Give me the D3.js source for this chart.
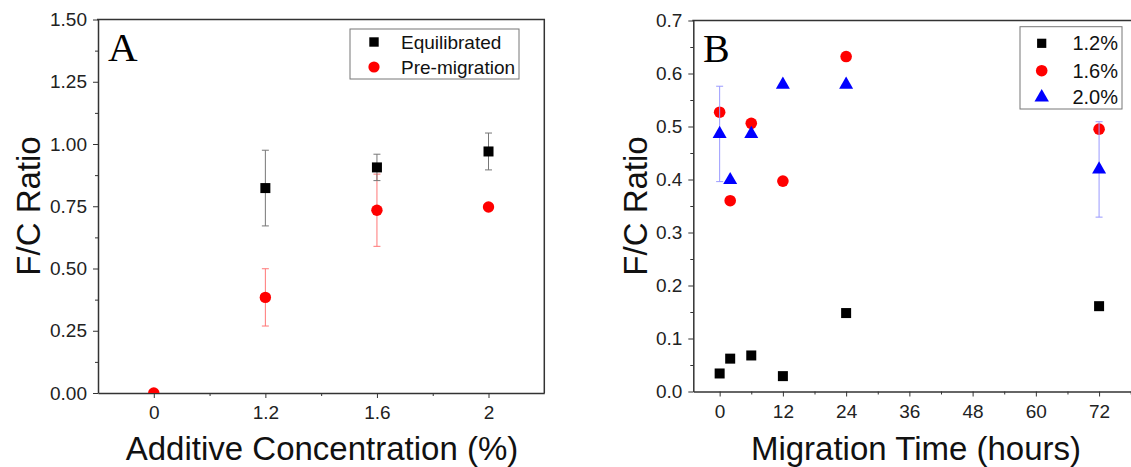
<!DOCTYPE html>
<html>
<head>
<meta charset="utf-8">
<script src="https://cdn.jsdelivr.net/npm/d3@7"></script>
<style>
  body { margin: 0; background: #fff; }
  svg { display: block; font-family: Arial, "Liberation Sans", sans-serif; }
</style>
</head>
<body>
<div id="chart"></div>
<script>
// ---- panel A data ----
const concLabels = ["0", "1.2", "1.6", "2"];
const equilVals = [null, 0.823, 0.906, 0.970];
const equilErr = [null, 0.152, 0.053, 0.074];
const preVals = [0.0, 0.384, 0.734, 0.747];
const preErr = [0, 0.115, 0.145, 0];
const aYTicks = [0, 0.25, 0.5, 0.75, 1.0, 1.25, 1.5];

// ---- panel B data ----
const hours = [0, 2, 6, 12, 24, 72];
const s12 = [0.034, 0.062, 0.068, 0.029, 0.148, 0.161];
const s16 = [0.527, 0.360, 0.506, 0.397, 0.632, 0.495];
const s20 = [0.486, 0.399, 0.486, 0.579, 0.579, 0.419];
const s20Err = [0.09, 0, 0, 0, 0, 0.09];
const bXTicks = [0, 12, 24, 36, 48, 60, 72];
const bYTicks = [0, 0.1, 0.2, 0.3, 0.4, 0.5, 0.6, 0.7];

const W = 1131, H = 467;
const axisCol = "#333";

const svg = d3.select("#chart").append("svg")
  .attr("width", W).attr("height", H);

// clip paths for plot areas
const defs = svg.append("defs");

function frame(id, x, y, xTickVals, xMinorVals, xFmt, yTickVals, yMinorVals, yFmt) {
  const [x0, x1] = x.range();
  const [y0, y1] = y.range();
  defs.append("clipPath").attr("id", id)
    .append("rect").attr("x", x0).attr("y", y1).attr("width", x1 - x0).attr("height", y0 - y1);

  // minor ticks
  svg.append("g").attr("transform", `translate(0,${y0})`)
    .call(d3.axisBottom(x).tickValues(xMinorVals).tickSize(3).tickFormat(""))
    .call(g => g.select(".domain").remove())
    .selectAll("line").attr("stroke", axisCol);
  svg.append("g").attr("transform", `translate(${x0},0)`)
    .call(d3.axisLeft(y).tickValues(yMinorVals).tickSize(3).tickFormat(""))
    .call(g => g.select(".domain").remove())
    .selectAll("line").attr("stroke", axisCol);

  // major axes
  const gx = svg.append("g").attr("transform", `translate(0,${y0})`)
    .call(d3.axisBottom(x).tickValues(xTickVals).tickSize(5).tickSizeOuter(0).tickPadding(8).tickFormat(xFmt));
  const gy = svg.append("g").attr("transform", `translate(${x0},0)`)
    .call(d3.axisLeft(y).tickValues(yTickVals).tickSize(5).tickSizeOuter(0).tickPadding(6).tickFormat(yFmt));
  [gx, gy].forEach(g => {
    g.select(".domain").attr("stroke", axisCol).attr("stroke-width", 1.5);
    g.selectAll("line").attr("stroke", axisCol);
    g.selectAll("text").attr("font-size", 19).attr("fill", "#222")
      .attr("font-family", "Arial, 'Liberation Sans', sans-serif");
  });

  // top and right border
  svg.append("path")
    .attr("d", `M${x0 - 1},${y1}H${x1}V${y0}`)
    .attr("fill", "none").attr("stroke", axisCol).attr("stroke-width", 1.5);
}

function errBars(g, data, xf, yf, col) {
  const eb = g.selectAll(null).data(data.filter(d => d.v != null && d.e > 0)).enter().append("g")
    .attr("stroke", col).attr("stroke-width", 1);
  eb.append("line").attr("x1", d => xf(d)).attr("x2", d => xf(d))
    .attr("y1", d => yf(d.v + d.e)).attr("y2", d => yf(d.v - d.e));
  eb.append("line").attr("x1", d => xf(d) - 3.5).attr("x2", d => xf(d) + 3.5)
    .attr("y1", d => yf(d.v + d.e)).attr("y2", d => yf(d.v + d.e));
  eb.append("line").attr("x1", d => xf(d) - 3.5).attr("x2", d => xf(d) + 3.5)
    .attr("y1", d => yf(d.v - d.e)).attr("y2", d => yf(d.v - d.e));
}

function marks(g, data, xf, yf, shape, col, size) {
  const pts = data.filter(d => d.v != null);
  if (shape === "square") {
    g.selectAll(null).data(pts).enter().append("rect")
      .attr("x", d => xf(d) - size / 2).attr("y", d => yf(d.v) - size / 2)
      .attr("width", size).attr("height", size).attr("fill", col);
  } else if (shape === "circle") {
    g.selectAll(null).data(pts).enter().append("circle")
      .attr("cx", d => xf(d)).attr("cy", d => yf(d.v)).attr("r", size / 2).attr("fill", col);
  } else {
    g.selectAll(null).data(pts).enter().append("path")
      .attr("transform", d => `translate(${xf(d)},${yf(d.v)})`)
      .attr("d", d3.symbol(d3.symbolTriangle, size)()).attr("fill", col);
  }
}

// ================= Panel A =================
const xA = d3.scalePoint().domain(concLabels).range([98, 544.3]).padding(0.5);
const yA = d3.scaleLinear().domain([0, 1.5]).range([393, 19.5]);
const aMinorX = concLabels.slice(0, -1).map((c, i) => i + 0.5);
// minor x ticks in A sit halfway between categories
const xAIdx = d3.scaleLinear().domain([-0.5, concLabels.length - 0.5]).range(xA.range());
frame("clipA", xAIdx, yA, concLabels.map((c, i) => i), aMinorX, i => concLabels[i],
  aYTicks, d3.range(0.125, 1.5, 0.25), d3.format(".2f"));

const plotA = svg.append("g").attr("clip-path", "url(#clipA)");
const preData = concLabels.map((c, i) => ({ c, v: preVals[i], e: preErr[i] }));
const eqData = concLabels.map((c, i) => ({ c, v: equilVals[i], e: equilErr[i] }));
const fxA = d => xA(d.c);
errBars(plotA, preData, fxA, yA, "#f77");
marks(plotA, preData, fxA, yA, "circle", "#ff0000", 11.4);
errBars(plotA, eqData, fxA, yA, "#777");
marks(plotA, eqData, fxA, yA, "square", "#000", 10);

// legend A
const legA = svg.append("g");
legA.append("rect").attr("x", 350).attr("y", 29).attr("width", 169).attr("height", 50)
  .attr("fill", "#fff").attr("stroke", "#777").attr("stroke-width", 1);
legA.append("rect").attr("x", 374 - 4.7).attr("y", 42 - 4.7).attr("width", 9.4).attr("height", 9.4).attr("fill", "#000");
legA.append("circle").attr("cx", 374).attr("cy", 67).attr("r", 5.6).attr("fill", "#ff0000");
legA.append("text").attr("x", 401).attr("y", 42).attr("dy", "0.35em").attr("font-size", 19).attr("fill", "#111").text("Equilibrated");
legA.append("text").attr("x", 401).attr("y", 67).attr("dy", "0.35em").attr("font-size", 19).attr("fill", "#111").text("Pre-migration");

svg.append("text").attr("x", 108).attr("y", 61).attr("font-size", 41)
  .attr("font-family", "'Times New Roman', 'Liberation Serif', serif").text("A");
svg.append("text").attr("transform", "translate(40,206) rotate(-90)")
  .attr("text-anchor", "middle").attr("font-size", 33).attr("fill", "#111").text("F/C Ratio");
svg.append("text").attr("x", 322).attr("y", 460)
  .attr("text-anchor", "middle").attr("font-size", 33).attr("fill", "#111").text("Additive Concentration (%)");

// ================= Panel B =================
const xB = d3.scaleLinear().domain([-5, 80]).range([693.3, 693.3 + 85 * 5.27]);
const yB = d3.scaleLinear().domain([0, 0.7]).range([391.5, 20.5]);
frame("clipB", xB, yB, bXTicks, d3.range(6, 80, 12), d3.format("d"),
  bYTicks, d3.range(0.05, 0.7, 0.1), d3.format(".1f"));

const plotB = svg.append("g").attr("clip-path", "url(#clipB)");
const fxB = d => xB(d.t);
const d12 = hours.map((t, i) => ({ t, v: s12[i], e: 0 }));
const d16 = hours.map((t, i) => ({ t, v: s16[i], e: 0 }));
const d20 = hours.map((t, i) => ({ t, v: s20[i], e: s20Err[i] }));
marks(plotB, d12, fxB, yB, "square", "#000", 10);
marks(plotB, d16, fxB, yB, "circle", "#ff0000", 11.6);
errBars(plotB, d20, fxB, yB, "#9a9aff");
marks(plotB, d20, fxB, yB, "triangle", "#0000ff", 85);

// legend B
const legB = svg.append("g");
legB.append("rect").attr("x", 1020).attr("y", 26.7).attr("width", 102).attr("height", 82.3)
  .attr("fill", "#fff").attr("stroke", "#777").attr("stroke-width", 1);
const legRows = [
  { label: "1.2%", shape: "square", col: "#000", y: 43.3 },
  { label: "1.6%", shape: "circle", col: "#ff0000", y: 70.7 },
  { label: "2.0%", shape: "triangle", col: "#0000ff", y: 97.3 }
];
legRows.forEach(r => {
  if (r.shape === "square") {
    legB.append("rect").attr("x", 1041.7 - 4.6).attr("y", r.y - 4.6).attr("width", 9.2).attr("height", 9.2).attr("fill", r.col);
  } else if (r.shape === "circle") {
    legB.append("circle").attr("cx", 1041.7).attr("cy", r.y).attr("r", 5.8).attr("fill", r.col);
  } else {
    legB.append("path").attr("transform", `translate(1041.7,${r.y})`)
      .attr("d", d3.symbol(d3.symbolTriangle, 90)()).attr("fill", r.col);
  }
  legB.append("text").attr("x", 1118).attr("y", r.y).attr("dy", "0.35em")
    .attr("text-anchor", "end").attr("font-size", 20).attr("fill", "#111").text(r.label);
});

svg.append("text").attr("x", 703).attr("y", 62).attr("font-size", 40)
  .attr("font-family", "'Times New Roman', 'Liberation Serif', serif").text("B");
svg.append("text").attr("transform", "translate(647,206) rotate(-90)")
  .attr("text-anchor", "middle").attr("font-size", 33).attr("fill", "#111").text("F/C Ratio");
svg.append("text").attr("x", 916).attr("y", 460)
  .attr("text-anchor", "middle").attr("font-size", 33).attr("fill", "#111").text("Migration Time (hours)");
</script>
</body>
</html>
